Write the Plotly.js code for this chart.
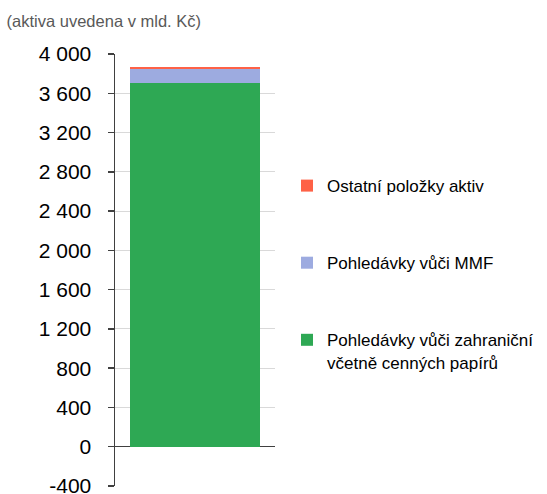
<!DOCTYPE html>
<html><head><meta charset="utf-8">
<script src="https://cdn.plot.ly/plotly-3.0.1.min.js"></script>
<style>body{margin:0;padding:0;background:#fff}#c{width:547px;height:494px}</style>
</head><body><div id="c"></div>
<script>
const category = ['Aktiva'];
const seriesNames = ['Pohledávky vůči zahraniční<br>včetně cenných papírů', 'Pohledávky vůči MMF', 'Ostatní položky aktiv'];
const foreignClaims = [3700];
const imfClaims = [150];
const otherAssets = [20];
const seriesColors = ['#2ea854', '#9dabe0', '#fe6146'];
const tickVals = [-400, 0, 400, 800, 1200, 1600, 2000, 2400, 2800, 3200, 3600, 4000];
const tickText = ['-400', '0', '400', '800', '1 200', '1 600', '2 000', '2 400', '2 800', '3 200', '3 600', '4 000'];

const values = [foreignClaims, imfClaims, otherAssets];
const traces = values.map((v, i) => ({
  type: 'bar', x: category, y: v, name: seriesNames[i],
  marker: {color: seriesColors[i], line: {width: 0}},
  legendgroup: 'g' + i, legendrank: 1000 - i, hoverinfo: 'skip'
}));

const layout = {
  width: 547, height: 494,
  margin: {l: 115, r: 272, t: 54, b: 8},
  barmode: 'stack', bargap: 0.19,
  paper_bgcolor: '#fff', plot_bgcolor: '#fff',
  font: {family: 'Liberation Sans, Arial, sans-serif', color: '#000'},
  title: {text: '(aktiva uvedena v mld. Kč)', x: 0.012, xanchor: 'left', y: 0.958, yanchor: 'middle',
          font: {size: 16.5, color: '#595959'}},
  xaxis: {showticklabels: false, showgrid: false, zeroline: false, showline: false, ticks: '', range: [-0.5, 0.5]},
  yaxis: {range: [-400, 4000], tickvals: tickVals, ticktext: tickText, tickfont: {size: 21, color: '#000'},
          ticklabeloverflow: 'allow',
          showline: true, linecolor: '#404040', linewidth: 1.5, ticks: 'outside', ticklen: 6, tickcolor: '#404040', tickwidth: 1.5,
          showgrid: true, gridcolor: '#d9d9d9', gridwidth: 1,
          zeroline: true, zerolinecolor: '#404040', zerolinewidth: 1.5, ticklabelstandoff: 12},
  showlegend: true,
  legend: {x: 1.075, xanchor: 'left', y: 0.736, yanchor: 'top', traceorder: 'grouped', tracegroupgap: 52,
           font: {size: 17, color: '#000'}, valign: 'top', itemwidth: 30, bgcolor: 'rgba(0,0,0,0)'}
};
Plotly.newPlot('c', traces, layout, {displayModeBar: false, staticPlot: true});
</script></body></html>
